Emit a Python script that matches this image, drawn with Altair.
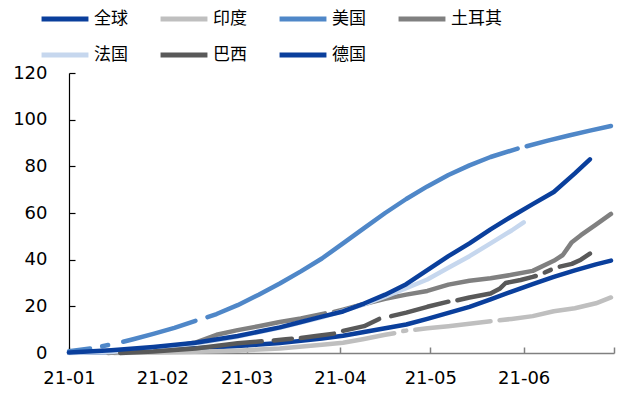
import altair as alt
import pandas as pd

# Series names (legend order) and their line colours
series_names = ["全球", "印度", "美国", "土耳其", "法国", "巴西", "德国"]
series_colors = ["#0a3f9c", "#bfbfbf", "#4f87c8", "#808080", "#c6d7ee", "#595959", "#0a3f9c"]

# Cumulative vaccine doses per 100 people; None marks a break in the reported data
world_dates = ["2021-01-01", "2021-01-15", "2021-01-29", "2021-02-12", "2021-02-26", "2021-03-05",
               "2021-03-12", "2021-03-19", "2021-03-26", "2021-04-02", "2021-04-09", "2021-04-16",
               "2021-04-23", "2021-04-30", "2021-05-07", "2021-05-14", "2021-05-21", "2021-05-28",
               "2021-06-04", "2021-06-11", "2021-06-18", "2021-06-25", "2021-06-30"]
world_vals = [0.1, 0.4, 1.1, 2.0, 3.0, 3.6, 4.3, 5.2, 6.2, 7.4, 9.0, 10.6, 12.2, 14.6, 17.2, 19.8,
              23.0, 26.3, 29.5, 32.6, 35.4, 38.0, 39.6]

india_dates = ["2021-01-16", "2021-01-29", "2021-02-12", "2021-02-26", "2021-03-12", "2021-03-26",
               "2021-04-02", "2021-04-09", "2021-04-16", "2021-04-19", "2021-04-20", "2021-04-22",
               "2021-04-23", "2021-04-24", "2021-04-26", "2021-04-30", "2021-05-07", "2021-05-14",
               "2021-05-21", "2021-05-22", "2021-05-24", "2021-05-28", "2021-06-04", "2021-06-11",
               "2021-06-18", "2021-06-25", "2021-06-30"]
india_vals = [0.0, 0.2, 0.5, 1.0, 1.9, 3.5, 4.4, 6.0, 7.8, 8.5, None, 9.4, 9.6, None, 10.0, 10.6,
              11.5, 12.5, 13.6, None, 14.0, 14.6, 15.8, 17.9, 19.2, 21.3, 23.8]

us_dates = ["2021-01-01", "2021-01-08", "2021-01-10", "2021-01-12", "2021-01-14", "2021-01-16",
            "2021-01-19", "2021-01-22", "2021-01-29", "2021-02-05", "2021-02-12", "2021-02-14",
            "2021-02-16", "2021-02-19", "2021-02-26", "2021-03-05", "2021-03-12", "2021-03-19",
            "2021-03-26", "2021-04-02", "2021-04-09", "2021-04-16", "2021-04-23", "2021-04-30",
            "2021-05-07", "2021-05-14", "2021-05-21", "2021-05-30", "2021-05-31", "2021-06-02",
            "2021-06-09", "2021-06-16", "2021-06-23", "2021-06-30"]
us_vals = [0.8, 1.9, None, 2.9, 3.4, None, 4.8, 5.8, 8.2, 10.8, 13.8, None, 15.4, 16.7, 20.5,
           25.0, 29.8, 35.0, 40.5, 47.0, 53.5, 60.0, 66.0, 71.4, 76.3, 80.4, 84.0, 87.6, None,
           88.6, 91.0, 93.2, 95.3, 97.3]

turkey_dates = ["2021-01-14", "2021-01-22", "2021-01-29", "2021-02-05", "2021-02-12", "2021-02-19",
                "2021-02-26", "2021-03-05", "2021-03-12", "2021-03-19", "2021-03-27", "2021-03-28",
                "2021-03-30", "2021-04-02", "2021-04-09", "2021-04-16", "2021-04-23", "2021-04-30",
                "2021-05-07", "2021-05-14", "2021-05-21", "2021-05-28", "2021-06-04", "2021-06-11",
                "2021-06-14", "2021-06-17", "2021-06-20", "2021-06-25", "2021-06-30"]
turkey_vals = [0.0, 1.0, 1.8, 2.8, 4.5, 7.8, 9.8, 11.5, 13.3, 14.8, 17.0, None, 17.6, 18.6, 21.0,
               23.2, 25.0, 26.6, 29.3, 31.0, 32.0, 33.5, 35.2, 39.5, 42.0, 47.5, 50.5, 55.0, 59.6]

france_dates = ["2021-01-01", "2021-01-15", "2021-01-29", "2021-02-12", "2021-02-26", "2021-03-12",
                "2021-03-26", "2021-04-09", "2021-04-16", "2021-04-23", "2021-04-30", "2021-05-07",
                "2021-05-14", "2021-05-21", "2021-05-28", "2021-06-01"]
france_vals = [0.0, 0.4, 2.2, 4.1, 7.0, 10.8, 15.3, 20.8, 24.2, 27.8, 31.5, 36.5, 41.5, 47.0,
               52.5, 56.0]

brazil_dates = ["2021-01-18", "2021-01-29", "2021-02-12", "2021-02-26", "2021-03-05", "2021-03-06",
                "2021-03-08", "2021-03-10", "2021-03-14", "2021-03-16", "2021-03-17", "2021-03-19",
                "2021-03-24", "2021-03-30", "2021-03-31", "2021-04-02", "2021-04-09", "2021-04-14",
                "2021-04-16", "2021-04-18", "2021-04-23", "2021-04-30", "2021-05-07", "2021-05-08",
                "2021-05-10", "2021-05-14", "2021-05-21", "2021-05-24", "2021-05-26", "2021-05-31",
                "2021-06-04", "2021-06-05", "2021-06-06", "2021-06-08", "2021-06-10", "2021-06-11",
                "2021-06-13", "2021-06-17", "2021-06-20", "2021-06-23"]
brazil_vals = [0.0, 0.6, 1.9, 4.2, 4.9, 5.0, None, 5.4, 5.9, 6.1, None, 6.4, 7.3, 8.3, None, 9.5,
               11.5, 14.6, None, 15.8, 17.3, 19.8, 22.0, None, 22.6, 23.8, 25.5, 27.5, 30.0, 31.3,
               32.6, 33.0, None, 34.5, 35.6, None, 37.0, 38.2, 40.0, 42.6]

germany_dates = ["2021-01-01", "2021-01-15", "2021-01-29", "2021-02-12", "2021-02-26", "2021-03-12",
                 "2021-03-19", "2021-03-26", "2021-04-02", "2021-04-09", "2021-04-16", "2021-04-23",
                 "2021-04-30", "2021-05-07", "2021-05-14", "2021-05-21", "2021-05-28", "2021-06-04",
                 "2021-06-11", "2021-06-18", "2021-06-23"]
germany_vals = [0.2, 1.2, 2.6, 4.4, 7.3, 11.0, 13.3, 15.6, 17.8, 21.2, 25.0, 29.5, 35.5, 41.5,
                47.0, 53.0, 58.5, 63.8, 69.0, 77.0, 83.0]

y_ticks = [0, 20, 40, 60, 80, 100, 120]
month_labels = [1, 2, 3, 4, 5, 6]
month_ticks = [1, 2, 3, 4, 5, 6, 7]

series_data = [
    ("全球", world_dates, world_vals),
    ("印度", india_dates, india_vals),
    ("美国", us_dates, us_vals),
    ("土耳其", turkey_dates, turkey_vals),
    ("法国", france_dates, france_vals),
    ("巴西", brazil_dates, brazil_vals),
    ("德国", germany_dates, germany_vals),
]

# Long table; every None starts a new path segment so the line breaks there
rows = []
for name, dates, vals in series_data:
    seg = 0
    for d, v in zip(dates, vals):
        if v is None:
            seg += 1
            continue
        rows.append({"date": d, "value": v, "series": name, "seg": f"{name}-{seg}"})
df = pd.DataFrame(rows)

W, H = 545, 280


def month(m):
    return alt.DateTime(year=2021, month=m, date=1, utc=True)


x_scale = alt.Scale(type="utc", domain=[month(1), month(7)])
y_scale = alt.Scale(domain=[0, 120], nice=False)

color = alt.Color(
    "series:N",
    scale=alt.Scale(domain=series_names, range=series_colors),
    legend=alt.Legend(
        title=None, orient="none", legendX=-30, legendY=-80,
        direction="horizontal", columns=4, columnPadding=22, rowPadding=0,
        symbolType="stroke", symbolSize=2200, symbolStrokeWidth=5,
        labelFont="Noto Sans CJK SC", labelFontSize=17, labelColor="#000000",
        labelOffset=3, padding=0,
    ),
)

x_main = alt.X(
    "date:T", scale=x_scale,
    axis=alt.Axis(
        title=None, labelExpr="utcFormat(datum.value, '%y-%m')",
        values=[month(m) for m in month_labels],
        ticks=False, grid=False, domainColor="#808080", domainWidth=1.5,
        labelFont="DejaVu Sans", labelFontSize=18, labelColor="#000000",
        labelPadding=16, labelAlign="center", labelFlush=False,
    ),
)
y_main = alt.Y(
    "value:Q", scale=y_scale,
    axis=alt.Axis(
        title=None, values=y_ticks, ticks=False, grid=False, domainColor="#000000",
        domainWidth=1.2, labelFont="DejaVu Sans", labelFontSize=18, labelColor="#000000",
        labelPadding=22,
    ),
)

lines = alt.layer(*[
    alt.Chart(df).transform_filter(alt.datum.series == name)
    .mark_line(strokeWidth=4.5, strokeCap="round", strokeJoin="round")
    .encode(x=x_main, y=y_main, color=color, detail="seg:N")
    for name in series_names
])

# Inward-pointing tick marks: mirrored axes shifted onto the plot edges
ticks_layer = alt.Chart(df).mark_point(opacity=0).encode(
    x=alt.X(
        "date:T", scale=x_scale,
        axis=alt.Axis(
            title=None, orient="top", offset=-H, labels=False, domain=False, grid=False,
            values=[month(m) for m in month_ticks], tickSize=6, tickColor="#808080",
            tickWidth=1.5,
        ),
    ),
    y=alt.Y(
        "value:Q", scale=y_scale,
        axis=alt.Axis(
            title=None, orient="right", offset=-W, labels=False, domain=False, grid=False,
            values=y_ticks, tickSize=6, tickColor="#000000", tickWidth=1.2,
        ),
    ),
)

chart = (
    alt.layer(lines, ticks_layer)
    .resolve_axis(x="independent", y="independent")
    .properties(
        width=W, height=H, autosize=alt.AutoSizeParams(type="none"),
        padding={"left": 69, "top": 73, "right": 9, "bottom": 43},
        background="#ffffff",
    )
    .configure_view(stroke=None)
)

chart.save("out.html", embed_options={"renderer": "svg", "actions": False})
